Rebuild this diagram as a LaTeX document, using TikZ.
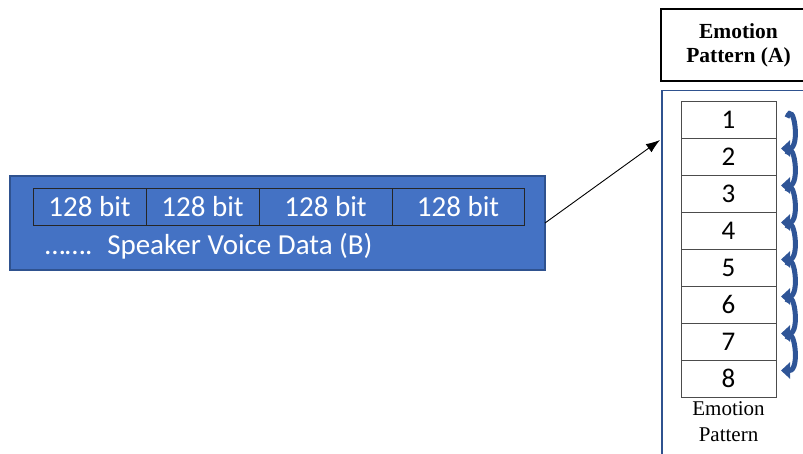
\documentclass[tikz,border=0pt]{standalone}
\usepackage{fontspec}
\setmainfont{Liberation Serif}
\newfontfamily\calibri{Carlito}
\usetikzlibrary{arrows.meta,positioning}
\definecolor{slideblue}{HTML}{4472C4}
\definecolor{slideedge}{HTML}{2F528F}
\definecolor{turnblue}{HTML}{2F5597}
\tikzset{every picture/.style={
  >=Latex                      % filled arrow tips.
  }
}
\newcommand{\bits}{128 bit}

\begin{document}
\begin{tikzpicture}[x=1pt,y=-1pt,
  voicebar/.style={draw=slideedge,fill=slideblue,line width=1.5pt,
    minimum width=535pt,minimum height=94pt,inner sep=0pt,outer sep=0pt},
  bitcell/.style={draw=black!85,line width=0.8pt,text=white,
    font=\calibri\fontsize{29}{32}\selectfont,
    minimum height=37pt,inner sep=0pt,outer sep=0pt},
  labelbox/.style={draw=black,line width=2pt,align=center,
    font=\bfseries\fontsize{21.5}{24}\selectfont,
    minimum width=155pt,minimum height=72pt,inner sep=0pt},
  frame/.style={draw=slideedge,line width=1.5pt,
    minimum width=170pt,minimum height=380pt,inner sep=0pt},
  numcell/.style={draw=black!70,fill=white,line width=0.8pt,
    font=\calibri\fontsize{27}{28}\selectfont,
    minimum width=95pt,minimum height=37pt,inner sep=0pt,outer sep=0pt},
  turn/.style={draw=turnblue,line width=5pt,
    -{Triangle[length=9pt,width=16pt]}}]
  \useasboundingbox (0,0) rectangle (803,454);
  \clip (0,0) rectangle (803,454);

  % speaker voice data
  \node[voicebar,anchor=north west] (voice) at (10,176) {};
  \node[bitcell,minimum width=113pt,anchor=north west] (b1) at (33,188) {\bits};
  \node[bitcell,minimum width=113pt,right=0pt of b1] (b2) {\bits};
  \node[bitcell,minimum width=133pt,right=0pt of b2] (b3) {\bits};
  \node[bitcell,minimum width=132pt,right=0pt of b3] (b4) {\bits};
  \node[anchor=west,text=white,inner sep=0pt,
    font=\calibri\fontsize{29}{32}\selectfont] (vtitle) at (45,246)
    {…….\hspace{6pt} Speaker Voice Data (B)};

  % emotion pattern
  \node[labelbox,anchor=north west] (patA) at (660,8) {Emotion\\Pattern (A)};
  \node[frame,anchor=north west] (frame) at (661,90) {};
  \foreach \i in {1,...,8}
    \node[numcell] (c\i) at (728.5,{119.5+37*(\i-1)}) {\i};
  \node[below=1pt of c8,align=center,
    font=\fontsize{21}{26}\selectfont] (cap) {Emotion\\Pattern};

  \coordinate (tip) at (660,140);
  \draw[->,line width=0.9pt,>={Latex[length=14pt,width=10pt]}] (voice.east) -- (tip);

  % rotation arrows
  \foreach \i [count=\j from 2] in {1,...,7}
    \draw[turn] ([xshift=11pt,yshift=2pt]c\i.east)
      to[out=70,in=0,looseness=1.6] ([xshift=5pt,yshift=8pt]c\j.east);
\end{tikzpicture}
\end{document}
